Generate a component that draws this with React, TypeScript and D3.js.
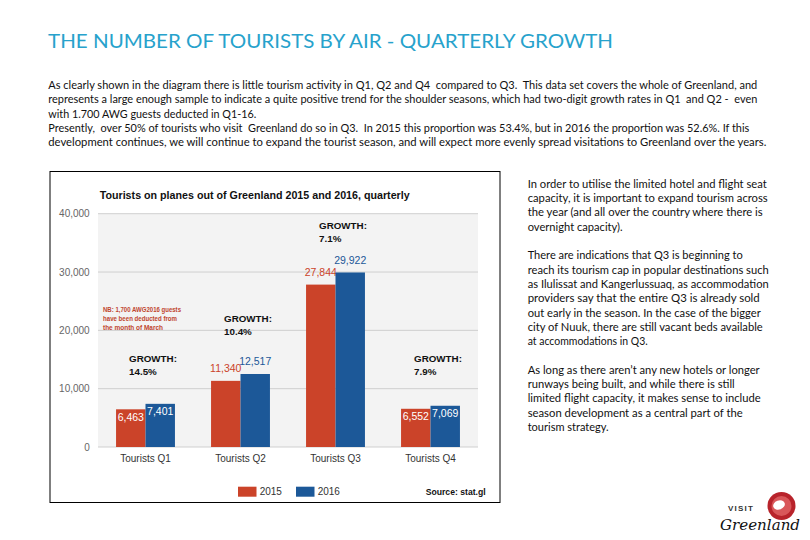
import React from "react";
import * as d3 from "d3";

const categories = ["Tourists Q1", "Tourists Q2", "Tourists Q3", "Tourists Q4"];
const years = ["2015", "2016"];
const values2015 = [6463, 11340, 27844, 6552];
const values2016 = [7401, 12517, 29922, 7069];
const growth = ["14.5%", "10.4%", "7.1%", "7.9%"];
const growthAnchor = [15100, 22000, 38000, 15100];
const yTicks = [0, 10000, 20000, 30000, 40000];

const pageTitle = "THE NUMBER OF TOURISTS BY AIR - QUARTERLY GROWTH";
const introLines = [
  "As clearly shown in the diagram there is little tourism activity in Q1, Q2 and Q4  compared to Q3.  This data set covers the whole of Greenland, and",
  "represents a large enough sample to indicate a quite positive trend for the shoulder seasons, which had two-digit growth rates in Q1  and Q2 -  even",
  "with 1.700 AWG guests deducted in Q1-16.",
  "Presently,  over 50% of tourists who visit  Greenland do so in Q3.  In 2015 this proportion was 53.4%, but in 2016 the proportion was 52.6%. If this",
  "development continues, we will continue to expand the tourist season, and will expect more evenly spread visitations to Greenland over the years.",
];
const introWidths = [709, 709, 208, 701, 718];

const sideLines = [
  "In order to utilise the limited hotel and flight seat",
  "capacity, it is important to expand tourism across",
  "the year (and all over the country where there is",
  "overnight capacity).",
  "",
  "There are indications that Q3 is beginning to",
  "reach its tourism cap in popular destinations such",
  "as Ilulissat and Kangerlussuaq, as accommodation",
  "providers say that the entire Q3 is already sold",
  "out early in the season. In the case of the bigger",
  "city of Nuuk, there are still vacant beds available",
  "at accommodations in Q3.",
  "",
  "As long as there aren\u2019t any new hotels or longer",
  "runways being built, and while there is still",
  "limited flight capacity, it makes sense to include",
  "season development as a central part of the",
  "tourism strategy.",
];
const sideWidths = [239, 240, 235, 95, 0, 215, 241, 241, 232, 233, 235, 120, 0, 232, 207, 233, 215, 81];

const chartTitle = "Tourists on planes out of Greenland 2015 and 2016, quarterly";
const noteLines = ["NB: 1,700 AWG2016 guests", "have been deducted from", "the month of March"];
const sourceText = "Source: stat.gl";

const RED = "#cb4329";
const BLUE = "#1c5898";
const FONT = "'Liberation Sans', Arial, sans-serif";
const BODY = "Lato, 'Open Sans', sans-serif";

export default function App() {
  const y = d3.scaleLinear().domain([0, 40000]).range([447, 213.7]);
  const x = d3.scaleBand<string>().domain(categories).range([98, 478]).paddingInner(0.38).paddingOuter(0.19);
  const xs = d3.scaleBand<string>().domain(years).range([0, x.bandwidth()]);
  const fmt = d3.format(",");
  const series = [values2015, values2016];
  const colors = [RED, BLUE];

  return (
    <svg width={810} height={540} style={{ position: "absolute", left: 0, top: 0, background: "#fff" }}>
      <text x={48} y={48} fontFamily={BODY} fontSize={18.5} fill="#27a2cc" textLength={565} lengthAdjust="spacingAndGlyphs">
        {pageTitle}
      </text>
      {introLines.map((l, i) => (
        <text key={i} x={48.3} y={89 + i * 14.3} fontFamily={BODY} fontSize={10.8} fill="#111"
          textLength={introWidths[i]} lengthAdjust="spacingAndGlyphs" style={{ whiteSpace: "pre" }}>
          {l}
        </text>
      ))}
      {sideLines.map((l, i) =>
        l ? (
          <text key={i} x={527.7} y={187.8 + i * 14.3} fontFamily={BODY} fontSize={10.8} fill="#111"
            textLength={sideWidths[i]} lengthAdjust="spacingAndGlyphs">
            {l}
          </text>
        ) : null
      )}

      {/* chart frame */}
      <rect x={50} y={171.5} width={450} height={331} fill="#fff" stroke="#000" strokeWidth={1} />
      <text x={99.7} y={199} fontFamily={FONT} fontSize={11} fontWeight="bold" fill="#111" textLength={310} lengthAdjust="spacingAndGlyphs">
        {chartTitle}
      </text>
      <rect x={98} y={y(40000)} width={380} height={y(0) - y(40000)} fill="#f3f3f3" />
      {yTicks.map((t) => (
        <g key={t}>
          <line x1={98} x2={478} y1={y(t)} y2={y(t)} stroke="#cfcfcf" strokeWidth={1} />
          <text x={89.7} y={y(t) + 3.5} textAnchor="end" fontFamily={FONT} fontSize={10} fill="#666">
            {fmt(t)}
          </text>
        </g>
      ))}
      {categories.map((c, ci) => (
        <g key={c} transform={`translate(${x(c)},0)`}>
          {years.map((yr, si) => {
            const v = series[si][ci];
            const bx = xs(yr)!;
            const bw = xs.bandwidth();
            const inside = v < 10000;
            return (
              <g key={yr}>
                <rect x={bx} y={y(v)} width={bw} height={y(0) - y(v)} fill={colors[si]} />
                <text x={bx + bw / 2} y={inside ? y(v) + 11.5 : y(v) - 8.5} textAnchor="middle"
                  fontFamily={FONT} fontSize={10.5} fill={inside ? "#fff" : colors[si]}>
                  {fmt(v)}
                </text>
              </g>
            );
          })}
          <text x={x.bandwidth() / 2} y={461.5} textAnchor="middle" fontFamily={FONT} fontSize={10} fill="#333">
            {c}
          </text>
          <text x={13} y={y(growthAnchor[ci]) + 3.5} fontFamily={FONT} fontSize={9.8} fontWeight="bold" fill="#111">
            GROWTH:
          </text>
          <text x={13} y={y(growthAnchor[ci]) + 16.5} fontFamily={FONT} fontSize={9.8} fontWeight="bold" fill="#111">
            {growth[ci]}
          </text>
        </g>
      ))}
      {noteLines.map((l, i) => (
        <text key={i} x={103} y={311.5 + i * 9.3} fontFamily={FONT} fontSize={6.5} fontWeight="bold" fill="#c0452e"
          textLength={i === 0 ? 78 : i === 1 ? 74 : 60} lengthAdjust="spacingAndGlyphs">
          {l}
        </text>
      ))}
      {/* legend */}
      {years.map((yr, i) => (
        <g key={yr} transform={`translate(${238 + i * 58},0)`}>
          <rect x={0} y={486.7} width={18.5} height={10} fill={colors[i]} />
          <text x={21.7} y={495.3} fontFamily={FONT} fontSize={10} fill="#333">
            {yr}
          </text>
        </g>
      ))}
      <text x={485.7} y={495.3} textAnchor="end" fontFamily={FONT} fontSize={9.5} fontWeight="bold" fill="#111"
        textLength={60} lengthAdjust="spacingAndGlyphs">
        {sourceText}
      </text>

      {/* logo */}
      <g>
        <circle cx={781.5} cy={506} r={14} fill="#b8232b" />
        <circle cx={781.5} cy={506} r={10} fill="#d9575a" />
        <ellipse cx={779} cy={505} rx={6} ry={4.5} fill="#fff" transform="rotate(-20 779 505)" />
        <text x={728} y={511} fontFamily={FONT} fontSize={8} fontWeight="bold" fill="#333" letterSpacing={1.2}>
          VISIT
        </text>
        <text x={720} y={530} fontFamily="'DejaVu Serif', serif" fontStyle="italic" fontSize={14} fill="#111"
          textLength={80} lengthAdjust="spacingAndGlyphs">
          Greenland
        </text>
      </g>
    </svg>
  );
}
